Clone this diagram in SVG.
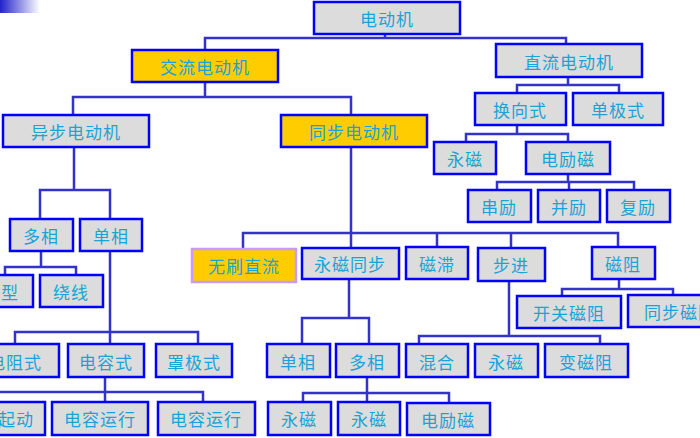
<svg xmlns="http://www.w3.org/2000/svg" width="700" height="438" viewBox="0 0 700 438">
<style>
.b rect{fill:#dcdcdc;stroke:#0000ff;stroke-width:2.5}
.y rect{fill:#ffcc00}
.l rect{stroke:#cc99ff}
text{font-family:"Noto Sans CJK SC",sans-serif;font-size:17px;fill:#1aa3d4;text-anchor:middle;dominant-baseline:central;letter-spacing:1px}
#c path{fill:none;stroke:#3333cc;stroke-width:2.5}
</style>
<defs><linearGradient id="g"><stop offset="0" stop-color="#2222cc"/><stop offset="1" stop-color="#fff"/></linearGradient></defs>
<rect x="0" y="0" width="40" height="13" fill="url(#g)"/>
<g id="c">
<path d="M385,34V38M205,50V38H566V44"/>
<path d="M205,82V97M73,115V97H351V115"/>
<path d="M568,77V85M517,93V85H619V93"/>
<path d="M517,125V134M466,142V134H568V142"/>
<path d="M568,174V182M497,190V182H634V190M569,182V190"/>
<path d="M74,147V190M40,219V190H110V219"/>
<path d="M41,251V267M5,275V267H76V275"/>
<path d="M110,251V344M15,344V332H198V344"/>
<path d="M105,377V402M0,392H203V402"/>
<path d="M351,147V248M243,249V233H618V247M437,233V247M511,233V248"/>
<path d="M349,279V318M302,344V318H369V344"/>
<path d="M367,377V393M303,402V393H449V402M367,393V402"/>
<path d="M509,281V336M419,344V336H600V344"/>
<path d="M619,279V289M562,296V289H673V296"/>
</g>
<g id="n1" class="b"><rect x="314" y="2" width="146" height="32"/><text x="387" y="18">电动机</text></g>
<g id="n2" class="b y"><rect x="132" y="50" width="146" height="32"/><text x="205" y="66">交流电动机</text></g>
<g id="n3" class="b"><rect x="496" y="44" width="146" height="33"/><text x="569" y="61">直流电动机</text></g>
<g id="n4" class="b"><rect x="3" y="115" width="146" height="32"/><text x="76" y="131">异步电动机</text></g>
<g id="n5" class="b y"><rect x="281" y="115" width="146" height="32"/><text x="354" y="131">同步电动机</text></g>
<g id="n6" class="b"><rect x="475" y="93" width="91" height="32"/><text x="520" y="109">换向式</text></g>
<g id="n7" class="b"><rect x="573" y="93" width="90" height="32"/><text x="618" y="109">单极式</text></g>
<g id="n8" class="b"><rect x="434" y="142" width="62" height="32"/><text x="465" y="158">永磁</text></g>
<g id="n9" class="b"><rect x="526" y="142" width="84" height="32"/><text x="568" y="158">电励磁</text></g>
<g id="n10" class="b"><rect x="468" y="190" width="63" height="32"/><text x="499" y="206">串励</text></g>
<g id="n11" class="b"><rect x="538" y="190" width="62" height="32"/><text x="569" y="206">并励</text></g>
<g id="n12" class="b"><rect x="607" y="190" width="63" height="32"/><text x="638" y="206">复励</text></g>
<g id="n13" class="b"><rect x="10" y="219" width="63" height="32"/><text x="41" y="235">多相</text></g>
<g id="n14" class="b"><rect x="80" y="219" width="62" height="32"/><text x="111" y="235">单相</text></g>
<g id="n15" class="b y l"><rect x="192" y="249" width="104" height="33"/><text x="244" y="265">无刷直流</text></g>
<g id="n16" class="b"><rect x="302" y="248" width="97" height="31"/><text x="350" y="263">永磁同步</text></g>
<g id="n17" class="b"><rect x="406" y="247" width="62" height="32"/><text x="437" y="263">磁滞</text></g>
<g id="n18" class="b"><rect x="478" y="248" width="67" height="33"/><text x="511" y="264">步进</text></g>
<g id="n19" class="b"><rect x="592" y="247" width="63" height="32"/><text x="623" y="263">磁阻</text></g>
<g id="n20" class="b"><rect x="-30" y="275" width="63" height="32"/><text x="1" y="291">笼型</text></g>
<g id="n21" class="b"><rect x="40" y="275" width="63" height="32"/><text x="71" y="291">绕线</text></g>
<g id="n22" class="b"><rect x="517" y="296" width="104" height="32"/><text x="569" y="312">开关磁阻</text></g>
<g id="n23" class="b"><rect x="628" y="295" width="104" height="32"/><text x="680" y="311">同步磁阻</text></g>
<g id="n24" class="b"><rect x="-30" y="344" width="89" height="33"/><text x="15" y="361">电阻式</text></g>
<g id="n25" class="b"><rect x="68" y="344" width="76" height="33"/><text x="106" y="361">电容式</text></g>
<g id="n26" class="b"><rect x="156" y="344" width="76" height="33"/><text x="194" y="361">罩极式</text></g>
<g id="n27" class="b"><rect x="267" y="344" width="63" height="33"/><text x="298" y="361">单相</text></g>
<g id="n28" class="b"><rect x="336" y="344" width="63" height="33"/><text x="367" y="361">多相</text></g>
<g id="n29" class="b"><rect x="406" y="344" width="62" height="33"/><text x="437" y="361">混合</text></g>
<g id="n30" class="b"><rect x="475" y="344" width="63" height="33"/><text x="506" y="361">永磁</text></g>
<g id="n31" class="b"><rect x="545" y="344" width="83" height="33"/><text x="586" y="361">变磁阻</text></g>
<g id="n32" class="b"><rect x="-50" y="402" width="95" height="33"/><text x="-2" y="418">电容起动</text></g>
<g id="n33" class="b"><rect x="52" y="402" width="96" height="33"/><text x="100" y="418">电容运行</text></g>
<g id="n34" class="b"><rect x="158" y="402" width="97" height="33"/><text x="206" y="418">电容运行</text></g>
<g id="n35" class="b"><rect x="268" y="402" width="63" height="33"/><text x="299" y="418">永磁</text></g>
<g id="n36" class="b"><rect x="338" y="402" width="62" height="33"/><text x="369" y="418">永磁</text></g>
<g id="n37" class="b"><rect x="407" y="403" width="83" height="32"/><text x="448" y="419">电励磁</text></g>
</svg>
